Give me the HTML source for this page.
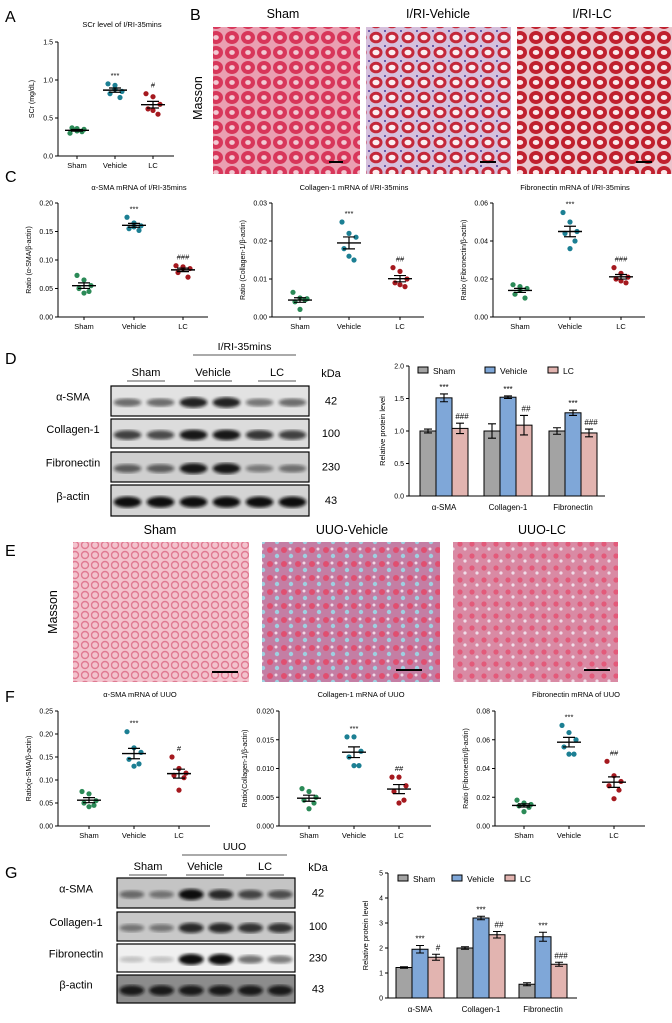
<!DOCTYPE html>
<html><head><meta charset="utf-8">
<style>
html,body{margin:0;padding:0;background:#fff;}
svg{display:block;font-family:"Liberation Sans",Arial,sans-serif;}
</style></head>
<body>
<svg id="fig" width="672" height="1023" viewBox="0 0 672 1023" xmlns="http://www.w3.org/2000/svg">
<defs>
<filter id="blur1"><feGaussianBlur stdDeviation="1.6"/></filter>
<pattern id="pSham" width="16" height="15" patternUnits="userSpaceOnUse">
<rect width="16" height="15" fill="#eaa0b2"/><ellipse cx="8" cy="7.5" rx="7" ry="6.5" fill="#d8365a"/><ellipse cx="8" cy="7.5" rx="2.8" ry="2.4" fill="#f2c8d2"/></pattern>
<pattern id="pVeh" width="16" height="15" patternUnits="userSpaceOnUse">
<rect width="16" height="15" fill="#d6c0dc"/><ellipse cx="8" cy="7.5" rx="6.5" ry="5.8" fill="#c4283a"/><ellipse cx="8" cy="7.5" rx="3.5" ry="2.8" fill="#fbeef0"/><rect x="0" y="0" width="2" height="2" fill="#6a5aa8"/></pattern>
<pattern id="pLC" width="16" height="15" patternUnits="userSpaceOnUse">
<rect width="16" height="15" fill="#eac4cc"/><ellipse cx="8" cy="7.5" rx="7" ry="6.5" fill="#c0202e"/><ellipse cx="8" cy="7.5" rx="3.2" ry="2.5" fill="#fbeaec"/></pattern>
<pattern id="pESham" width="10" height="10" patternUnits="userSpaceOnUse">
<rect width="10" height="10" fill="#f3c3cd"/><circle cx="5" cy="5" r="3.5" fill="none" stroke="#e07a92" stroke-width="1.4"/></pattern>
<pattern id="pEVeh" width="14" height="14" patternUnits="userSpaceOnUse">
<rect width="14" height="14" fill="#c47ea4"/><circle cx="4" cy="4" r="3" fill="#e04f70"/><circle cx="11" cy="10" r="2.2" fill="#9ed0e0"/><circle cx="10" cy="3" r="1.5" fill="#f2d9e6"/></pattern>
<pattern id="pELC" width="12" height="12" patternUnits="userSpaceOnUse">
<rect width="12" height="12" fill="#d98aa4"/><circle cx="4" cy="4" r="2.6" fill="#e35a7a"/><circle cx="9" cy="9" r="1.6" fill="#f0dde8"/></pattern>
</defs>

<g font-size="16" fill="#000">
<text x="5" y="22">A</text>
<text x="190" y="20">B</text>
<text x="5" y="182">C</text>
<text x="5" y="364">D</text>
<text x="5" y="556">E</text>
<text x="5" y="702">F</text>
<text x="5" y="878">G</text>
</g>

<g font-size="12.5" text-anchor="middle">
<text x="283" y="18">Sham</text>
<text x="438" y="18">I/RI-Vehicle</text>
<text x="592" y="18">I/RI-LC</text>
<text transform="translate(202,98) rotate(-90)">Masson</text>
<rect x="213" y="27" width="147" height="147" fill="url(#pSham)"/>
<rect x="366" y="27" width="145" height="147" fill="url(#pVeh)"/>
<rect x="517" y="27" width="155" height="147" fill="url(#pLC)"/>
<rect x="329" y="161" width="14" height="2" fill="#000"/>
<rect x="480" y="161" width="16" height="2" fill="#000"/>
<rect x="636" y="161" width="16" height="2" fill="#000"/>
</g>

<g font-size="12.5" text-anchor="middle">
<text x="160" y="534">Sham</text>
<text x="352" y="534">UUO-Vehicle</text>
<text x="542" y="534">UUO-LC</text>
<text transform="translate(57,612) rotate(-90)">Masson</text>
<rect x="73" y="542" width="176" height="140" fill="url(#pESham)"/>
<rect x="262" y="542" width="178" height="140" fill="url(#pEVeh)"/>
<rect x="453" y="542" width="165" height="140" fill="url(#pELC)"/>
<rect x="212" y="671" width="26" height="2" fill="#000"/>
<rect x="396" y="669" width="26" height="2" fill="#000"/>
<rect x="584" y="669" width="26" height="2" fill="#000"/>
</g>
</svg>

<script>
// ---------- DATA ----------
const groups = ["Sham", "Vehicle", "LC"];
const aTicks = ["0.0","0.5","1.0","1.5"];
const aSham = [0.30,0.33,0.35,0.37,0.32,0.36];
const aVeh = [0.95,0.93,0.85,0.82,0.77,0.88];
const aLC = [0.82,0.78,0.68,0.62,0.55,0.60];
const c1Ticks = ["0.00","0.05","0.10","0.15","0.20"];
const c1Sham = [0.073,0.065,0.055,0.050,0.045,0.042];
const c1Veh = [0.175,0.165,0.160,0.155,0.152,0.158];
const c1LC = [0.090,0.088,0.085,0.078,0.070,0.085];
const c2Ticks = ["0.00","0.01","0.02","0.03"];
const c2Sham = [0.0065,0.0050,0.0048,0.0040,0.0045,0.0020];
const c2Veh = [0.025,0.022,0.021,0.018,0.015,0.016];
const c2LC = [0.013,0.012,0.010,0.009,0.008,0.0085];
const c3Ticks = ["0.00","0.02","0.04","0.06"];
const c3Sham = [0.017,0.016,0.015,0.012,0.010,0.014];
const c3Veh = [0.055,0.050,0.045,0.044,0.040,0.036];
const c3LC = [0.026,0.023,0.021,0.020,0.018,0.019];
const f1Ticks = ["0.00","0.05","0.10","0.15","0.20","0.25"];
const f1Sham = [0.075,0.070,0.055,0.050,0.045,0.042];
const f1Veh = [0.205,0.170,0.160,0.145,0.135,0.130];
const f1LC = [0.150,0.125,0.115,0.110,0.105,0.078];
const f2Ticks = ["0.000","0.005","0.010","0.015","0.020"];
const f2Sham = [0.0065,0.0060,0.0050,0.0045,0.0040,0.0030];
const f2Veh = [0.0155,0.0155,0.0130,0.0120,0.0105,0.0105];
const f2LC = [0.0085,0.0085,0.0070,0.0060,0.0045,0.0040];
const f3Ticks = ["0.00","0.02","0.04","0.06","0.08"];
const f3Sham = [0.018,0.016,0.015,0.014,0.013,0.010];
const f3Veh = [0.070,0.065,0.060,0.055,0.050,0.050];
const f3LC = [0.045,0.035,0.031,0.028,0.025,0.019];
const proteins = ["α-SMA","Collagen-1","Fibronectin"];
const dTicks = ["0.0","0.5","1.0","1.5","2.0"];
const dSham = [1.00,1.00,1.00];
const dShamErr = [0.03,0.11,0.05];
const dVeh = [1.51,1.52,1.28];
const dVehErr = [0.06,0.02,0.04];
const dLC = [1.04,1.09,0.97];
const dLCErr = [0.08,0.15,0.06];
const dVehSig = ["***","***","***"];
const dLCSig = ["###","##","###"];
const gTicks = ["0","1","2","3","4","5"];
const gSham = [1.22,2.00,0.55];
const gShamErr = [0.03,0.05,0.06];
const gVeh = [1.95,3.20,2.45];
const gVehErr = [0.15,0.07,0.18];
const gLC = [1.63,2.53,1.35];
const gLCErr = [0.12,0.13,0.08];
const gVehSig = ["***","***","***"];
const gLCSig = ["#","##","###"];

// ---------- helpers ----------
const NS = "http://www.w3.org/2000/svg";
const fig = document.getElementById("fig");
function mk(tag, a, parent){
  const e = document.createElementNS(NS, tag);
  for (const k in a) e.setAttribute(k, a[k]);
  (parent || fig).appendChild(e);
  return e;
}
function txt(s, a, parent){ const e = mk("text", a, parent); e.textContent = s; return e; }
const mean = v => v.reduce((p,c)=>p+c,0)/v.length;
const sem = v => { const m = mean(v); return Math.sqrt(v.reduce((p,c)=>p+(c-m)*(c-m),0)/(v.length-1))/Math.sqrt(v.length); };

const colors = ["#2b8a57","#1c7f93","#a5191f"];
const jit = [-7,0,7,-5,5,0];

function scatterPlot(o){
  const g = mk("g", {});
  
  
  const ymax = parseFloat(o.ticks[o.ticks.length-1]);
  const y = v => o.yb - (v/ymax)*(o.yb-o.yt);
  const t = txt(o.title, {x:(o.x0+o.x1)/2+6, y:o.ty, "font-size":7.5, "text-anchor":"middle"}, g);
  
  
  const ax = mk("path", {d:`M${o.x0},${o.yt} V${o.yb} H${o.x1}`, stroke:"#000", "stroke-width":1, fill:"none"}, g);
  
  
  o.ticks.forEach(tk => {
    const yy = y(parseFloat(tk));
    mk("line", {x1:o.x0-3, x2:o.x0, y1:yy, y2:yy, stroke:"#000", "stroke-width":1}, g);
    const tl = txt(tk, {x:o.x0-5, y:yy+2.5, "font-size":7, "text-anchor":"end"}, g);
    
    
  });
  const yl = txt(o.ylabel, {transform:`translate(${o.x0-o.ylOff},${(o.yt+o.yb)/2}) rotate(-90)`, "font-size":7, "text-anchor":"middle"}, g);
  
  
  o.series.forEach((s, i) => {
    const cx = o.xs[i];
    mk("line", {x1:cx, x2:cx, y1:o.yb, y2:o.yb+3, stroke:"#000"}, g);
    const xl = txt(groups[i], {x:cx, y:o.yb+12, "font-size":7.5, "text-anchor":"middle"}, g);
    
    
    s.forEach((v, j) => {
      const p = mk("circle", {cx:cx+jit[j], cy:y(v), r:2.6, fill:colors[i]}, g);
      
      
    });
    const m = mean(s), e = sem(s);
    const ml = mk("line", {x1:cx-12, x2:cx+12, y1:y(m), y2:y(m), stroke:"#000", "stroke-width":1.4}, g);
    
    
    const eb = mk("path", {d:`M${cx},${y(m+e)} V${y(m-e)} M${cx-6},${y(m+e)} H${cx+6} M${cx-6},${y(m-e)} H${cx+6}`, stroke:"#000", "stroke-width":1.2, fill:"none"}, g);
    
    
    if (o.sig[i]) {
      const sg = txt(o.sig[i], {x:cx, y:y(Math.max(...s))-6, "font-size":7.5, "text-anchor":"middle"}, g);
      
      
    }
  });
}

scatterPlot({name:"panel-a-scr-chart", title:"SCr level of I/RI-35mins", ty:27, x0:58, x1:174, yt:42, yb:156, xs:[77,115,153], ticks:aTicks, series:[aSham,aVeh,aLC], ylabel:"SCr (mg/dL)", ylOff:24, sig:["","***","#"]});
scatterPlot({name:"panel-c-asma-chart", title:"α-SMA mRNA of I/RI-35mins", ty:190, x0:58, x1:208, yt:203, yb:317, xs:[84,134,183], ticks:c1Ticks, series:[c1Sham,c1Veh,c1LC], ylabel:"Ratio (α-SMA/β-actin)", ylOff:27, sig:["","***","###"]});
scatterPlot({name:"panel-c-collagen-chart", title:"Collagen-1 mRNA of I/RI-35mins", ty:190, x0:272, x1:424, yt:203, yb:317, xs:[300,349,400], ticks:c2Ticks, series:[c2Sham,c2Veh,c2LC], ylabel:"Ratio (Collagen-1/β-actin)", ylOff:27, sig:["","***","##"]});
scatterPlot({name:"panel-c-fibronectin-chart", title:"Fibronectin mRNA of I/RI-35mins", ty:190, x0:493, x1:645, yt:203, yb:317, xs:[520,570,621], ticks:c3Ticks, series:[c3Sham,c3Veh,c3LC], ylabel:"Ratio (Fibronectin/β-actin)", ylOff:27, sig:["","***","###"]});
scatterPlot({name:"panel-f-asma-chart", title:"α-SMA mRNA of UUO", ty:697, x0:58, x1:210, yt:711, yb:826, xs:[89,134,179], ticks:f1Ticks, series:[f1Sham,f1Veh,f1LC], ylabel:"Ratio(α-SMA/β-actin)", ylOff:27, sig:["","***","#"]});
scatterPlot({name:"panel-f-collagen-chart", title:"Collagen-1 mRNA of UUO", ty:697, x0:279, x1:431, yt:711, yb:826, xs:[309,354,399], ticks:f2Ticks, series:[f2Sham,f2Veh,f2LC], ylabel:"Ratio(Collagen-1/β-actin)", ylOff:32, sig:["","***","##"]});
scatterPlot({name:"panel-f-fibronectin-chart", title:"Fibronectin mRNA of UUO", ty:697, x0:495, x1:645, yt:711, yb:826, xs:[524,569,614], ticks:f3Ticks, series:[f3Sham,f3Veh,f3LC], ylabel:"Ratio (Fibronectin/β-actin)", ylOff:27, sig:["","***","##"]});

const barFill = ["#a3a3a3","#7fa7d8","#e2b4b0"];
function barChart(o){
  const g = mk("g", {});
  
  
  const ymax = parseFloat(o.ticks[o.ticks.length-1]);
  const y = v => o.yb - (v/ymax)*(o.yb-o.yt);
  const ax = mk("path", {d:`M${o.x0},${o.yt} V${o.yb} H${o.x1}`, stroke:"#000", "stroke-width":1, fill:"none"}, g);
  
  
  o.ticks.forEach(tk => {
    const yy = y(parseFloat(tk));
    mk("line", {x1:o.x0-3, x2:o.x0, y1:yy, y2:yy, stroke:"#000"}, g);
    const tl = txt(tk, {x:o.x0-5, y:yy+2.5, "font-size":7, "text-anchor":"end"}, g);
    
    
  });
  const yl = txt("Relative protein level", {transform:`translate(${o.x0-o.ylOff},${(o.yt+o.yb)/2}) rotate(-90)`, "font-size":7.5, "text-anchor":"middle"}, g);
  
  
  const bw = 16;
  proteins.forEach((p, i) => {
    const cx = o.xs[i];
    const xl = txt(p, {x:cx, y:o.yb+14, "font-size":8, "text-anchor":"middle"}, g);
    
    
    [o.sham, o.veh, o.lc].forEach((ser, k) => {
      const err = [o.shamErr, o.vehErr, o.lcErr][k][i];
      const bx = cx + (k-1)*bw - bw/2;
      const b = mk("rect", {x:bx, y:y(ser[i]), width:bw, height:o.yb-y(ser[i]), fill:barFill[k], stroke:"#000", "stroke-width":1}, g);
      
      
      const bc = bx + bw/2;
      const eb = mk("path", {d:`M${bc},${y(ser[i]+err)} V${y(ser[i]-err)} M${bc-4},${y(ser[i]+err)} H${bc+4} M${bc-4},${y(ser[i]-err)} H${bc+4}`, stroke:"#000", "stroke-width":1.1, fill:"none"}, g);
      
      
      const sigArr = k===1 ? o.vehSig : (k===2 ? o.lcSig : null);
      if (sigArr) {
        const s = txt(sigArr[i], {x:bc+(k===2?2:0), y:y(ser[i]+err)-4, "font-size":8, "text-anchor":"middle"}, g);
        
        
      }
    });
  });
  groups.forEach((gn, k) => {
    const lx = o.legX[k];
    const lr = mk("rect", {x:lx, y:o.legY-4, width:10, height:6, fill:barFill[k], stroke:"#000", "stroke-width":1}, g);
    
    
    const lt = txt(gn, {x:lx+15, y:o.legY+3, "font-size":8.5}, g);
    
    
  });
}
barChart({name:"panel-d-protein-chart", x0:409, x1:605, yt:366, yb:496, xs:[444,508,573], ticks:dTicks, sham:dSham, shamErr:dShamErr, veh:dVeh, vehErr:dVehErr, lc:dLC, lcErr:dLCErr, vehSig:dVehSig, lcSig:dLCSig, legX:[418,485,548], legY:371, ylOff:24});
barChart({name:"panel-g-protein-chart", x0:388, x1:577, yt:873, yb:998, xs:[420,481,543], ticks:gTicks, sham:gSham, shamErr:gShamErr, veh:gVeh, vehErr:gVehErr, lc:gLC, lcErr:gLCErr, vehSig:gVehSig, lcSig:gLCSig, legX:[398,452,505], legY:879, ylOff:20});

const blotNames = ["α-SMA","Collagen-1","Fibronectin","β-actin"];
const blotKda = ["42","100","230","43"];
const dBand = [[0.55,0.55,0.9,0.9,0.5,0.55],[0.75,0.7,0.95,0.95,0.8,0.75],[0.6,0.6,0.95,0.95,0.45,0.5],[1,1,1,1,1,1]];
const gBand = [[0.5,0.45,1,0.85,0.7,0.65],[0.45,0.45,0.85,0.85,0.8,0.8],[0.2,0.2,1,1,0.55,0.5],[0.9,0.9,0.9,0.9,0.9,0.9]];
function blot(o){
  const g = mk("g", {});
  
  
  const hdr = txt(o.header, {x:(o.hx0+o.hx1)/2, y:o.hy, "font-size":10.5, "text-anchor":"middle"}, g);
  
  
  mk("line", {x1:o.hx0, x2:o.hx1, y1:o.hy+5, y2:o.hy+5, stroke:"#555", "stroke-width":1}, g);
  groups.forEach((gn, k) => {
    const gl = txt(gn, {x:o.gx[k], y:o.gy, "font-size":11, "text-anchor":"middle"}, g);
    
    
    mk("line", {x1:o.gx[k]-19, x2:o.gx[k]+19, y1:o.gy+5, y2:o.gy+5, stroke:"#555", "stroke-width":1}, g);
  });
  const kd = txt("kDa", {x:o.kx, y:o.gy+1, "font-size":11, "text-anchor":"middle"}, g);
  
  
  const lw = (o.x1-o.x0)/6;
  o.rows.forEach((r, i) => {
    const box = mk("rect", {x:o.x0, y:r[0], width:o.x1-o.x0, height:r[1]-r[0], fill:o.bg[i], stroke:"#000", "stroke-width":1.2}, g);
    
    
    const cy = r[0] + (r[1]-r[0])*0.55;
    o.bands[i].forEach((v, j) => {
      const b = mk("ellipse", {cx:o.x0+lw*(j+0.5), cy:cy, rx:lw*0.42, ry:2.5+v*3, fill:"#111", opacity:v, filter:"url(#blur1)"}, g);
      
      
    });
    const nl = txt(blotNames[i], {x:o.lx, y:cy-2, "font-size":11, "text-anchor":"middle"}, g);
    
    
    const kl = txt(blotKda[i], {x:o.kx, y:cy+2, "font-size":11, "text-anchor":"middle"}, g);
    
    
  });
}
blot({name:"panel-d-western-blot", header:"I/RI-35mins", hx0:193, hx1:296, hy:350, gx:[146,213,277], gy:376, kx:331, x0:111, x1:309,
  rows:[[386,416],[419,448],[452,482],[485,516]], bg:["#e2e2e2","#dcdcdc","#cfcfcf","#d4d4d4"], bands:dBand, lx:73});
blot({name:"panel-g-western-blot", header:"UUO", hx0:182, hx1:287, hy:850, gx:[148,205,265], gy:870, kx:318, x0:117, x1:295,
  rows:[[878,908],[912,941],[944,972],[975,1003]], bg:["#c4c4c4","#c8c8c8","#f0f0f0","#8c8c8c"], bands:gBand, lx:76});
</script>
</body></html>
